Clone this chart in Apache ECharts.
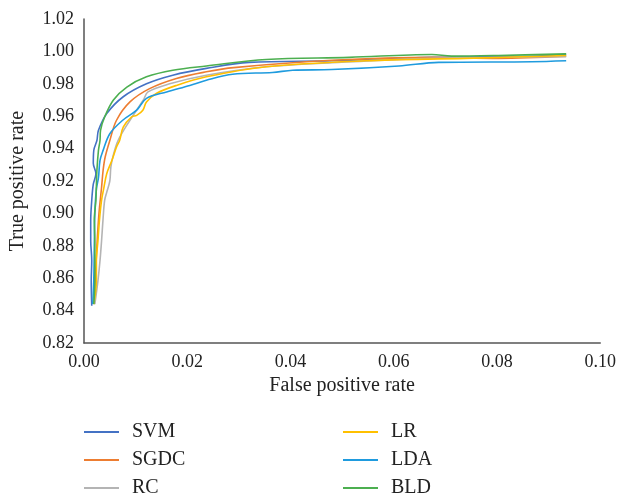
<!DOCTYPE html>
<html>
<head>
<meta charset="utf-8">
<script src="https://cdn.jsdelivr.net/npm/echarts@6/dist/echarts.min.js"></script>
<style>html,body{margin:0;padding:0;background:#fff}#c{width:619px;height:495px}</style>
</head>
<body>
<div id="c"></div>
<script>
const seriesNames = ['SVM', 'SGDC', 'RC', 'LR', 'LDA', 'BLD'];
const xTicks = [0, 0.02, 0.04, 0.06, 0.08, 0.10];
const yTicks = [0.82, 0.84, 0.86, 0.88, 0.90, 0.92, 0.94, 0.96, 0.98, 1.00, 1.02];

const SVM = [[0.0015,0.843],[0.0014,0.858],[0.0015,0.871],[0.0013,0.883],[0.0013,0.8955],[0.0015,0.908],[0.0018,0.918],[0.0023,0.9245],[0.0018,0.931],[0.0019,0.939],[0.0025,0.945],[0.0028,0.9513],[0.0044,0.9616],[0.0076,0.972],[0.0121,0.980],[0.0172,0.9853],[0.0237,0.9895],[0.032,0.9932],[0.048,0.9942],[0.0674,0.9963],[0.0867,0.997],[0.0934,0.998]];
const SGDC = [[0.0019,0.844],[0.0022,0.860],[0.0025,0.880],[0.0029,0.900],[0.0034,0.916],[0.0037,0.9265],[0.0041,0.9348],[0.0050,0.945],[0.0063,0.9575],[0.0089,0.9688],[0.0127,0.977],[0.0179,0.9833],[0.0237,0.9874],[0.029,0.990],[0.048,0.9945],[0.0674,0.9963],[0.0803,0.9957],[0.0934,0.997]];
const RC = [[0.0021,0.844],[0.0027,0.8584],[0.0031,0.8708],[0.0034,0.883],[0.0037,0.897],[0.0040,0.908],[0.0044,0.913],[0.0050,0.920],[0.0052,0.9285],[0.0056,0.935],[0.0066,0.945],[0.0089,0.9575],[0.0115,0.970],[0.0124,0.975],[0.0166,0.980],[0.0237,0.9853],[0.0353,0.9905],[0.048,0.993],[0.0674,0.9957],[0.0934,0.9967]];
const LR = [[0.0019,0.844],[0.0024,0.8584],[0.0024,0.8708],[0.0027,0.883],[0.0030,0.896],[0.0034,0.908],[0.0038,0.915],[0.0044,0.9245],[0.0054,0.9327],[0.0063,0.941],[0.0069,0.945],[0.0076,0.9533],[0.0092,0.9595],[0.0102,0.9605],[0.0114,0.9637],[0.0121,0.9688],[0.0140,0.974],[0.0179,0.979],[0.0237,0.9843],[0.0353,0.9905],[0.0546,0.9942],[0.0739,0.9957],[0.0934,0.9975]];
const LDA = [[0.0017,0.844],[0.0019,0.860],[0.0020,0.880],[0.0021,0.900],[0.0024,0.915],[0.0028,0.922],[0.0031,0.9327],[0.0037,0.9389],[0.0050,0.9492],[0.0075,0.9575],[0.0102,0.9637],[0.0121,0.971],[0.0160,0.975],[0.0205,0.979],[0.0237,0.9822],[0.0288,0.9859],[0.0365,0.987],[0.0404,0.9884],[0.048,0.9888],[0.061,0.991],[0.0687,0.9932],[0.0867,0.9936],[0.0934,0.9942]];
const BLD = [[0.0019,0.844],[0.0021,0.8584],[0.0021,0.8708],[0.0021,0.883],[0.0020,0.896],[0.0023,0.908],[0.0024,0.917],[0.0025,0.9265],[0.0028,0.9389],[0.0031,0.945],[0.0032,0.9513],[0.0040,0.9595],[0.0057,0.970],[0.0083,0.978],[0.0121,0.9843],[0.0172,0.9884],[0.0237,0.991],[0.0353,0.995],[0.0514,0.9963],[0.0674,0.9981],[0.0712,0.9971],[0.0803,0.9975],[0.0934,0.9985]];

const seriesData = [SVM, SGDC, RC, LR, LDA, BLD];
const colors = ['#4472C4', '#ED7D31', '#B4B4B4', '#FFC000', '#1F9BDE', '#4CAF50'];
const font = '"Liberation Serif", "DejaVu Serif", serif';
const legendLeft = [84, 84, 84, 343, 343, 343];
const legendTop = [422, 450, 478, 422, 450, 478];

const chart = echarts.init(document.getElementById('c'), null, {renderer: 'canvas'});
chart.setOption({
  animation: false,
  color: colors,
  grid: {left: 84, right: 17, top: 19, bottom: 152},
  xAxis: {
    type: 'value', min: xTicks[0], max: xTicks[xTicks.length - 1], interval: 0.02,
    name: 'False positive rate', nameLocation: 'middle', nameGap: 30,
    nameTextStyle: {fontFamily: font, fontSize: 20, color: '#222'},
    axisLine: {show: true, lineStyle: {color: '#555', width: 1.5}},
    axisTick: {show: false}, splitLine: {show: false},
    axisLabel: {fontFamily: font, fontSize: 18, color: '#222', margin: 10, formatter: v => v.toFixed(2)}
  },
  yAxis: {
    type: 'value', min: yTicks[0], max: yTicks[yTicks.length - 1], interval: 0.02,
    name: 'True positive rate', nameLocation: 'middle', nameGap: 56,
    nameTextStyle: {fontFamily: font, fontSize: 20, color: '#222'},
    axisLine: {show: true, lineStyle: {color: '#555', width: 1.5}},
    axisTick: {show: false}, splitLine: {show: false},
    axisLabel: {fontFamily: font, fontSize: 18, color: '#222', margin: 10, formatter: v => v.toFixed(2)}
  },
  legend: seriesNames.map((n, i) => ({
    data: [n], left: legendLeft[i], top: legendTop[i], padding: 0,
    itemWidth: 35, itemHeight: 2, icon: 'rect',
    textStyle: {fontFamily: font, fontSize: 20, lineHeight: 14, color: '#222', padding: [0, 0, 0, 8]}
  })),
  series: seriesNames.map((n, i) => ({
    name: n, type: 'line', data: seriesData[i], smooth: 0.35, symbol: 'none',
    lineStyle: {width: 1.6, color: colors[i]}, itemStyle: {color: colors[i]}
  }))
});
</script>
</body>
</html>
